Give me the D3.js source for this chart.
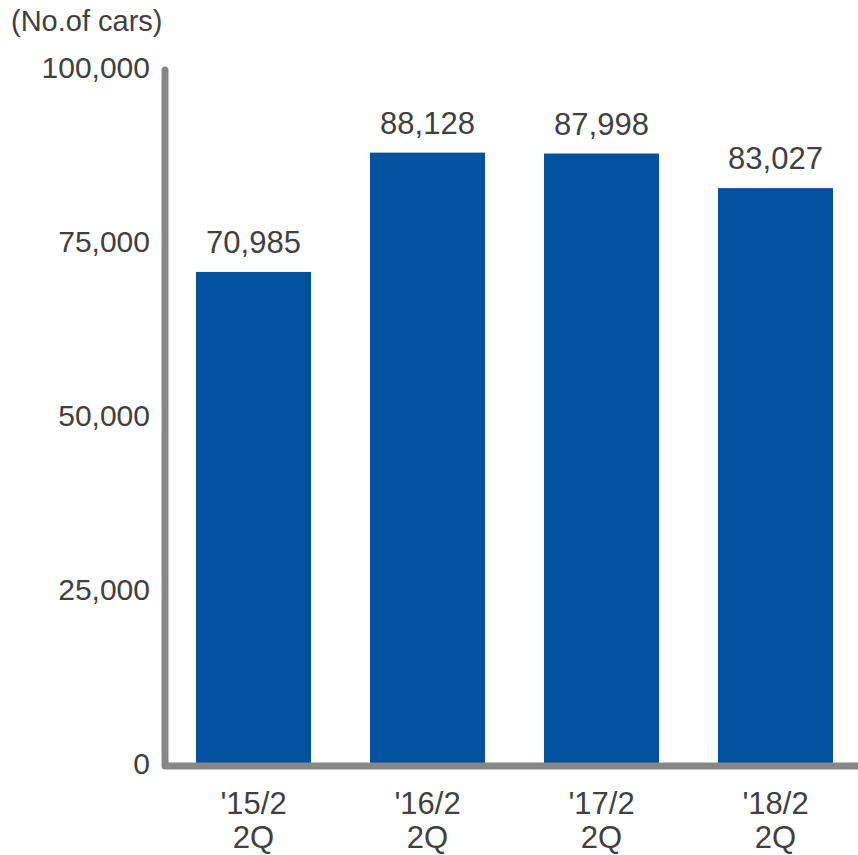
<!DOCTYPE html>
<html>
<head>
<meta charset="utf-8">
<script src="https://cdn.jsdelivr.net/npm/d3@7"></script>
<style>
  body { margin: 0; background: #fff; }
  text { font-family: 'Liberation Sans', Arial, sans-serif; fill: #404040; }
</style>
</head>
<body>
<div id="chart"></div>
<script>
var chart_width = 858
var chart_height = 855

var categories = ["'15/2", "'16/2", "'17/2", "'18/2"]
var sub_labels = ['2Q', '2Q', '2Q', '2Q']
var values = [70985, 88128, 87998, 83027]
var tick_values = [0, 25000, 50000, 75000, 100000]

var svg = d3.select('#chart')
  .append('svg')
  .attr('width', chart_width)
  .attr('height', chart_height)

// scales
var x_scale = d3.scaleBand()
  .domain(categories)
  .range([166.5, 862.5])
  .paddingInner(0.339)
  .paddingOuter(0.1695)

var y_scale = d3.scaleLinear()
  .domain([0, 100000])
  .range([766, 70])

var fmt = d3.format(',')

// bars
svg.selectAll('.bar')
  .data(values)
  .enter()
  .append('rect')
  .attr('class', 'bar')
  .attr('x', (d, i) => x_scale(categories[i]))
  .attr('y', d => y_scale(d))
  .attr('width', x_scale.bandwidth())
  .attr('height', d => y_scale(0) - y_scale(d))
  .attr('fill', '#00519e')

// value labels
svg.selectAll('.val')
  .data(values)
  .enter()
  .append('text')
  .attr('class', 'val')
  .attr('x', (d, i) => x_scale(categories[i]) + x_scale.bandwidth() / 2)
  .attr('y', d => y_scale(d) - 19)
  .attr('text-anchor', 'middle')
  .style('font-size', '31px')
  .text(d => fmt(d))

// y axis
var y_axis = d3.axisLeft(y_scale)
  .tickValues(tick_values)
  .tickSize(0)
  .tickPadding(15)
  .tickFormat(fmt)

var gy = svg.append('g')
  .attr('class', 'y-axis')
  .attr('transform', 'translate(165, 0)')
  .call(y_axis)
gy.select('.domain').remove()
gy.selectAll('text')
  .style('font-size', '30px')
  .attr('dy', '0.26em')

// x axis
var x_axis = d3.axisBottom(x_scale)
  .tickSize(0)
  .tickFormat('')

var gx = svg.append('g')
  .attr('class', 'x-axis')
  .attr('transform', 'translate(0, ' + y_scale(0) + ')')
  .call(x_axis)
gx.select('.domain').remove()

gx.selectAll('.tick').each(function(d, i) {
  var t = d3.select(this).select('text')
    .attr('y', 0)
    .attr('dy', null)
    .style('font-size', '31px')
  t.append('tspan').attr('x', 0).attr('y', 48).text(d)
  t.append('tspan').attr('x', 0).attr('y', 82).text(sub_labels[i])
})

// axis lines, thick gray with round ends
svg.append('path')
  .attr('d', 'M165,' + y_scale(100000) + 'V' + y_scale(0) + 'H' + chart_width)
  .attr('fill', 'none')
  .attr('stroke', '#878787')
  .attr('stroke-width', 7)
  .attr('stroke-linejoin', 'round')
  .attr('stroke-linecap', 'round')

// unit title
svg.append('text')
  .attr('x', 11)
  .attr('y', 31)
  .style('font-size', '29px')
  .text('(No.of cars)')
</script>
</body>
</html>
